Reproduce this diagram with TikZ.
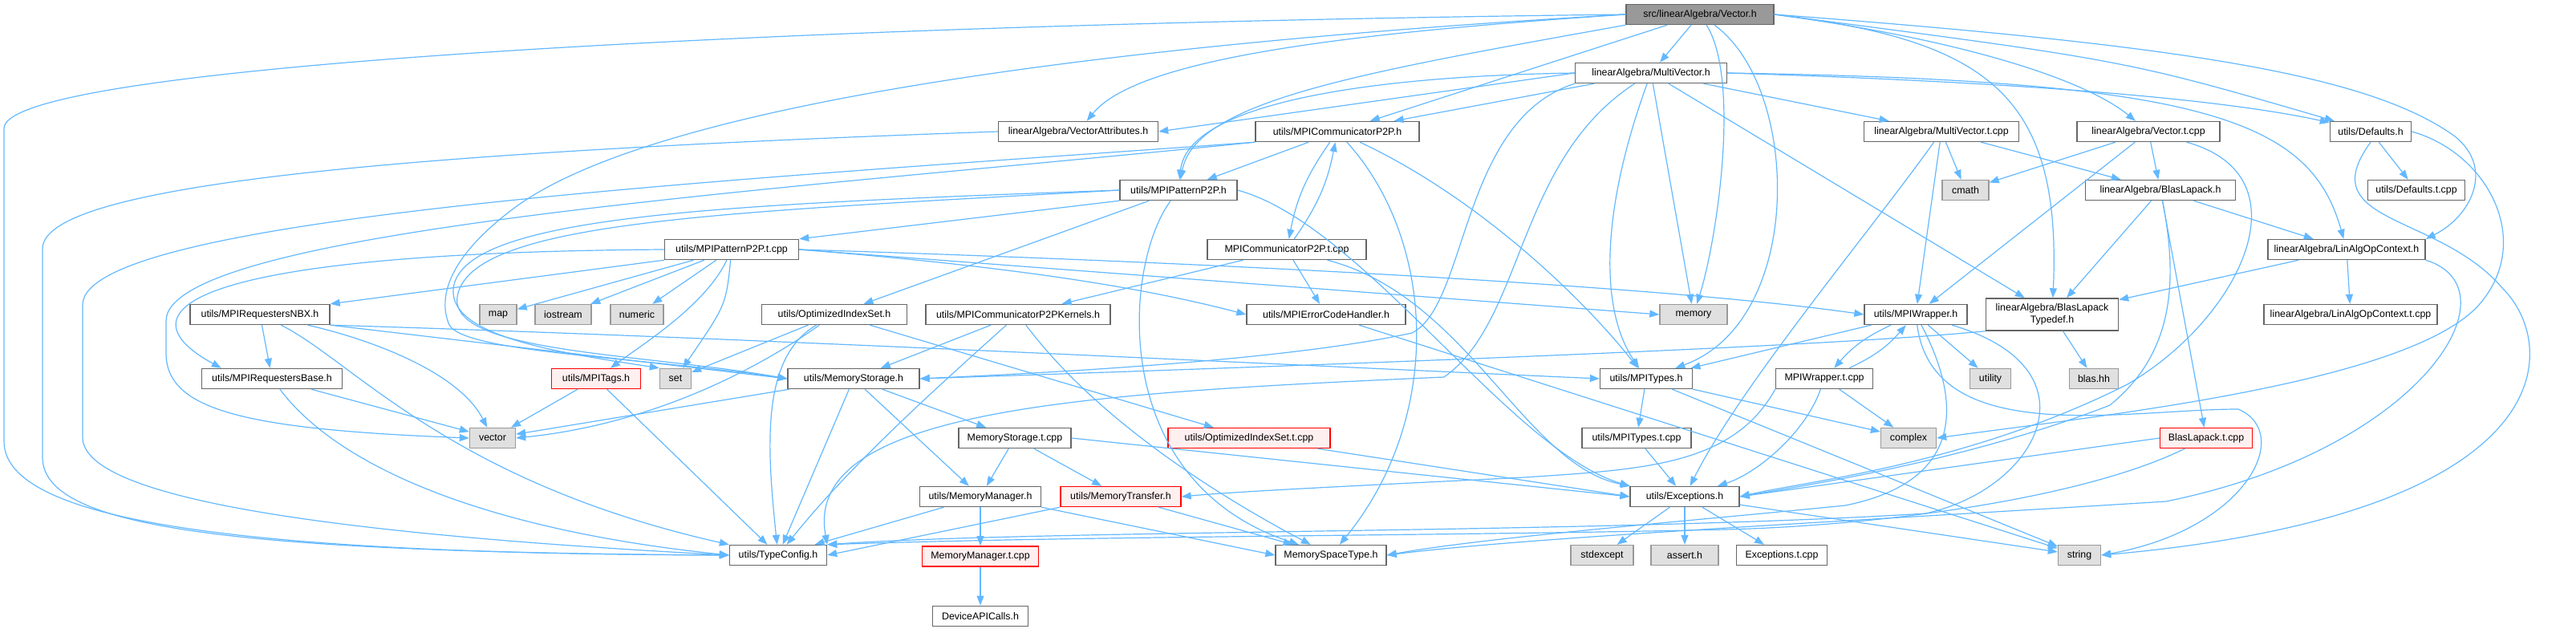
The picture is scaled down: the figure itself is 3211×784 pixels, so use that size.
\documentclass[tikz,border=0pt]{standalone}
\usepackage{fontspec}
\setmainfont{Liberation Sans}
\usetikzlibrary{arrows.meta,positioning}
\definecolor{depblue}{HTML}{63B8FF}
\definecolor{boxline}{HTML}{666666}
\definecolor{sysfill}{HTML}{E0E0E0}
\definecolor{sysline}{HTML}{999999}
\definecolor{rootfill}{HTML}{999999}
\definecolor{truncfill}{HTML}{FFF0F0}
\begin{document}
\begin{tikzpicture}[x=1pt,y=-1pt,font=\fontsize{12.4}{15}\selectfont,
  hdr/.style={draw=boxline,fill=white,line width=1.4pt,inner xsep=2pt,inner ysep=0pt,minimum height=25pt,minimum width=#1},
  hdr/.default=100pt,
  sys/.style={hdr=#1,draw=sysline,fill=sysfill},
  trunc/.style={hdr=#1,draw=red,fill=truncfill},
  root/.style={hdr=#1,draw=boxline,fill=rootfill},
  dep/.style={draw=depblue,line width=1.2pt,-{Triangle[length=12pt,width=9pt]}}]
\path[use as bounding box] (0,0) rectangle (3211,784);

\node[root=184pt] (vec) at (2119,18) {src/linearAlgebra/Vector.h};
\node[hdr=189pt] (mv) at (2058,91) {linearAlgebra/MultiVector.h};
\node[hdr=199pt] (va) at (1344,164) {linearAlgebra/VectorAttributes.h};
\node[hdr=204pt] (comm) at (1667,164) {utils/MPICommunicatorP2P.h};
\node[hdr=193pt] (mvt) at (2420,164) {linearAlgebra/MultiVector.t.cpp};
\node[hdr=178pt] (vect) at (2678,164) {linearAlgebra/Vector.t.cpp};
\node[hdr=101pt] (defs) at (2955,164) {utils/Defaults.h};
\node[hdr=146pt] (pat) at (1469,237) {utils/MPIPatternP2P.h};
\node[sys=58pt] (cmath) at (2450,237) {cmath};
\node[hdr=187pt] (bl) at (2693,237) {linearAlgebra/BlasLapack.h};
\node[hdr=121pt] (defst) at (3012,237) {utils/Defaults.t.cpp};
\node[hdr=167pt] (patt) at (912,311) {utils/MPIPatternP2P.t.cpp};
\node[hdr=198pt] (commt) at (1604,311) {MPICommunicatorP2P.t.cpp};
\node[hdr=196pt] (ctx) at (2925,311) {linearAlgebra/LinAlgOpContext.h};
\node[hdr=174pt] (nbx) at (324,392) {utils/MPIRequestersNBX.h};
\node[sys=46pt] (map) at (621,392) {map};
\node[sys=70pt] (iostream) at (702,392) {iostream};
\node[sys=66pt] (numeric) at (794,392) {numeric};
\node[hdr=181pt] (ois) at (1040,392) {utils/OptimizedIndexSet.h};
\node[hdr=230pt] (kern) at (1269,392) {utils/MPICommunicatorP2PKernels.h};
\node[hdr=198pt] (errh) at (1653,392) {utils/MPIErrorCodeHandler.h};
\node[sys=84pt] (memory) at (2111,392) {memory};
\node[hdr=128pt] (wrap) at (2388,392) {utils/MPIWrapper.h};
\node[hdr=165pt,minimum height=40pt,align=center] (bltd) at (2558,392) {linearAlgebra/BlasLapack\\Typedef.h};
\node[hdr=216pt] (ctxt) at (2930,392) {linearAlgebra/LinAlgOpContext.t.cpp};
\node[hdr=175pt] (reqb) at (339,472) {utils/MPIRequestersBase.h};
\node[trunc=111pt] (tags) at (743,472) {utils/MPITags.h};
\node[sys=39pt] (set) at (842,472) {set};
\node[hdr=164pt] (ms) at (1064,472) {utils/MemoryStorage.h};
\node[hdr=115pt] (types) at (2052,472) {utils/MPITypes.h};
\node[hdr=121pt] (wrapt) at (2274,472) {MPIWrapper.t.cpp};
\node[sys=51pt] (utility) at (2481,472) {utility};
\node[sys=61pt] (blas) at (2610,472) {blas.hh};
\node[sys=57pt] (vector) at (614,546) {vector};
\node[hdr=140pt] (mst) at (1265,546) {MemoryStorage.t.cpp};
\node[trunc=202pt] (oist) at (1557,546) {utils/OptimizedIndexSet.t.cpp};
\node[hdr=136pt] (typest) at (2040,546) {utils/MPITypes.t.cpp};
\node[sys=69pt] (complex) at (2379,546) {complex};
\node[trunc=115pt] (blt) at (2750,546) {BlasLapack.t.cpp};
\node[hdr=151pt] (mm) at (1222,619) {utils/MemoryManager.h};
\node[trunc=150pt] (mt) at (1397,619) {utils/MemoryTransfer.h};
\node[hdr=136pt] (exc) at (2100,619) {utils/Exceptions.h};
\node[hdr=121pt] (tc) at (970,692) {utils/TypeConfig.h};
\node[trunc=145pt,below=48pt of mm] (mmt) {MemoryManager.t.cpp};
\node[hdr=138pt] (mst2) at (1659,692) {MemorySpaceType.h};
\node[sys=78pt] (stdexcept) at (1997,692) {stdexcept};
\node[sys=84pt] (assert) at (2100,692) {assert.h};
\node[hdr=113pt] (exct) at (2221,692) {Exceptions.t.cpp};
\node[sys=53pt] (string) at (2592,692) {string};
\node[hdr=119pt,below=48pt of mmt] (dev) {DeviceAPICalls.h};

\draw[dep] (vec) -- (mv);
\draw[dep] (vec.west) .. controls (1700,40) and (1420,70) .. (va);
\draw[dep] (vec) -- (comm);
\draw[dep] (vec.south west) .. controls (1700,90) and (1490,125) .. (pat);
\draw[dep] (vec.west) .. controls (1000,30) and (5,80) .. (5,160) -- (5,550) .. controls (5,650) and (300,690) .. (tc.west);
\draw[dep] (vec.west) .. controls (1300,60) and (800,140) .. (640,260) .. controls (560,320) and (545,370) .. (560,405) .. controls (580,440) and (800,445) .. (ms.west);
\draw[dep] (vec) .. controls (2170,100) and (2140,300) .. (memory);
\draw[dep] (vec) .. controls (2245,110) and (2250,400) .. (types);
\draw[dep] (vec.east) .. controls (2480,50) and (2570,120) .. (bltd);
\draw[dep] (vec.east) .. controls (2700,55) and (2950,90) .. (3060,170) .. controls (3110,210) and (3080,270) .. (ctx.north east);
\draw[dep] (vec.east) .. controls (2650,75) .. (defs);
\draw[dep] (vec.east) .. controls (2450,50) and (2600,100) .. (vect);

\draw[dep] (mv.west) -- (va.east);
\draw[dep] (mv) -- (comm);
\draw[dep] (mv.west) .. controls (1700,95) and (1480,130) .. (pat);
\draw[dep] (mv.south west) .. controls (1820,150) and (1830,380) .. (1760,415) .. controls (1600,450) and (1300,465) .. (ms.east);
\draw[dep] (mv) .. controls (1890,200) and (1900,400) .. (1800,470) .. controls (1350,490) and (1000,510) .. (tc.north east);
\draw[dep] (mv) -- (memory);
\draw[dep] (mv) .. controls (2000,250) and (1990,380) .. (types);
\draw[dep] (mv) -- (bltd);
\draw[dep] (mv.east) .. controls (2750,100) and (2880,150) .. (ctx);
\draw[dep] (mv.east) .. controls (2600,105) and (2800,130) .. (defs);
\draw[dep] (mv) -- (mvt);

\draw[dep] (va.west) .. controls (500,190) and (53,230) .. (53,310) -- (53,570) .. controls (53,660) and (300,688) .. (tc.west);

\draw[dep] (comm) -- (pat);
\draw[dep] (comm) to[bend right=12] (commt);
\draw[dep] (commt) to[bend right=12] (comm);
\draw[dep] (comm) .. controls (1790,300) and (1800,520) .. (mst2);
\draw[dep] (comm) .. controls (1850,250) and (1980,380) .. (types);
\draw[dep] (comm.south west) .. controls (900,225) and (103,270) .. (103,380) -- (103,545) .. controls (103,620) and (400,665) .. (tc.west);
\draw[dep] (comm.south west) .. controls (1000,235) and (207,285) .. (207,400) -- (207,440) .. controls (207,510) and (300,535) .. (vector.west);

\draw[dep] (commt) -- (kern);
\draw[dep] (commt) -- (errh);
\draw[dep] (commt) .. controls (1830,370) and (1900,580) .. (exc);

\draw[dep] (pat.south west) -- (patt.north east);
\draw[dep] (pat) -- (ois);
\draw[dep] (pat) .. controls (1400,330) and (1380,600) .. (mst2);
\draw[dep] (pat.west) .. controls (900,265) and (585,275) .. (570,370) .. controls (560,440) and (800,440) .. (ms.west);
\draw[dep] (pat.west) .. controls (900,255) and (575,268) .. (565,360) .. controls (560,420) and (700,440) .. (set.north west);
\draw[dep] (pat.east) .. controls (1700,280) and (1880,560) .. (exc.north west);

\draw[dep] (patt.south west) -- (nbx.north east);
\draw[dep] (patt.west) .. controls (220,315) and (150,390) .. ([xshift=25pt]reqb.north west);
\draw[dep] (patt) -- (map);
\draw[dep] (patt) -- (iostream);
\draw[dep] (patt) -- (numeric);
\draw[dep] (patt) .. controls (880,380) and (800,430) .. (tags);
\draw[dep] (patt) .. controls (905,380) .. (set);
\draw[dep] (patt.east) -- (memory.west);
\draw[dep] (patt.east) .. controls (1600,330) and (2100,360) .. (wrap.west);
\draw[dep] (patt.east) .. controls (1300,335) and (1450,365) .. (errh.west);

\draw[dep] (nbx) -- (reqb);
\draw[dep] (nbx) .. controls (450,420) and (570,460) .. (vector);
\draw[dep] (nbx) .. controls (440,450) and (560,600) .. (tc.north west);
\draw[dep] (nbx.south east) -- (ms.west);
\draw[dep] (nbx.south east) .. controls (900,420) and (1500,450) .. (types.west);

\draw[dep] (reqb) -- (vector);
\draw[dep] (reqb) .. controls (420,580) and (600,660) .. (tc.west);

\draw[dep] (tags) -- (vector);
\draw[dep] (tags) -- (tc);

\draw[dep] (ois) -- (set);
\draw[dep] (ois) .. controls (930,470) and (800,530) .. (vector.east);
\draw[dep] (ois) .. controls (950,445) and (955,550) .. (tc);
\draw[dep] (ois) -- (oist);

\draw[dep] (ms) -- (vector);
\draw[dep] (ms) -- (tc);
\draw[dep] (ms) -- (mm);
\draw[dep] (ms) -- (mst);

\draw[dep] (mst) -- (mm);
\draw[dep] (mst) -- (mt);
\draw[dep] (mst.east) -- (exc.west);

\draw[dep] (mm) -- (tc);
\draw[dep] (mm) -- (mmt);
\draw[dep] (mm.south east) -- (mst2.west);
\draw[dep] (mt.south west) -- (tc.east);
\draw[dep] (mt) -- (mst2);
\draw[dep] (mmt) -- (dev);

\draw[dep] (kern) -- (ms);
\draw[dep] (kern) .. controls (1160,490) and (1060,580) .. (tc);
\draw[dep] (kern) .. controls (1380,540) and (1560,640) .. (mst2);

\draw[dep] (oist) -- (exc.west);
\draw[dep] (errh) -- (string);

\draw[dep] (types) -- (typest);
\draw[dep] (types) -- (complex);
\draw[dep] (types) -- (string);
\draw[dep] (typest) -- (exc);

\draw[dep] (exc) -- (stdexcept);
\draw[dep] (exc) -- (assert);
\draw[dep] (exc) -- (exct);
\draw[dep] (exc) -- (string);

\draw[dep] (wrap) -- (types);
\draw[dep] (wrap) to[bend right=12] (wrapt);
\draw[dep] (wrapt) to[bend right=12] (wrap);
\draw[dep] (wrap) -- (utility);
\draw[dep] (wrap) .. controls (2410,560) and (2650,510) .. (2790,510) .. controls (2860,540) and (2800,660) .. (string.east);
\draw[dep] (wrap) .. controls (2445,500) and (2450,600) .. (2300,630) .. controls (2100,650) and (1850,670) .. (mst2.east);
\draw[dep] (wrap) .. controls (2620,460) and (2540,610) .. (2400,640) .. controls (2000,665) and (1300,660) .. (tc.north east);

\draw[dep] (wrapt) -- (complex);
\draw[dep] (wrapt) .. controls (2250,540) and (2190,590) .. (exc);
\draw[dep] (wrapt.south west) .. controls (2160,580) and (2050,585) .. (1900,595) .. controls (1700,605) and (1550,612) .. (mt.east);

\draw[dep] (mvt) -- (cmath);
\draw[dep] (mvt) -- (wrap);
\draw[dep] (mvt) -- (bl);
\draw[dep] (mvt) .. controls (2330,290) and (2170,480) .. (exc);

\draw[dep] (vect) -- (cmath);
\draw[dep] (vect) -- (wrap);
\draw[dep] (vect) -- (bl);
\draw[dep] (vect) .. controls (2880,220) and (2790,400) .. (2650,480) .. controls (2450,580) and (2250,600) .. (exc.east);

\draw[dep] (defs) -- (defst);
\draw[dep] (defs.east) .. controls (3100,190) and (3160,300) .. (3090,380) .. controls (3000,480) and (2600,520) .. (complex.east);
\draw[dep] (defs.south) .. controls (2880,280) and (3040,265) .. (3120,360) .. controls (3190,430) and (3200,640) .. (string.east);

\draw[dep] (bl) -- (bltd);
\draw[dep] (bl) -- (ctx);
\draw[dep] (bl) -- (blt);
\draw[dep] (bl) .. controls (2715,350) and (2710,440) .. (2630,505) .. controls (2450,575) and (2250,605) .. (exc.east);

\draw[dep] (blt.west) -- (exc.east);
\draw[dep] (blt) .. controls (2600,620) and (2350,655) .. (2150,660) .. controls (1800,668) and (1350,668) .. (tc.north east);

\draw[dep] (ctx) -- (bltd);
\draw[dep] (ctx) -- (ctxt);
\draw[dep] (ctx.south east) .. controls (3140,360) and (3020,560) .. (2700,625) .. controls (2300,650) and (1900,670) .. (mst2.east);

\draw[dep] (bltd) -- (blas);
\draw[dep] (bltd.south west) .. controls (2300,430) and (1800,450) .. (ms.east);
\end{tikzpicture}
\end{document}
